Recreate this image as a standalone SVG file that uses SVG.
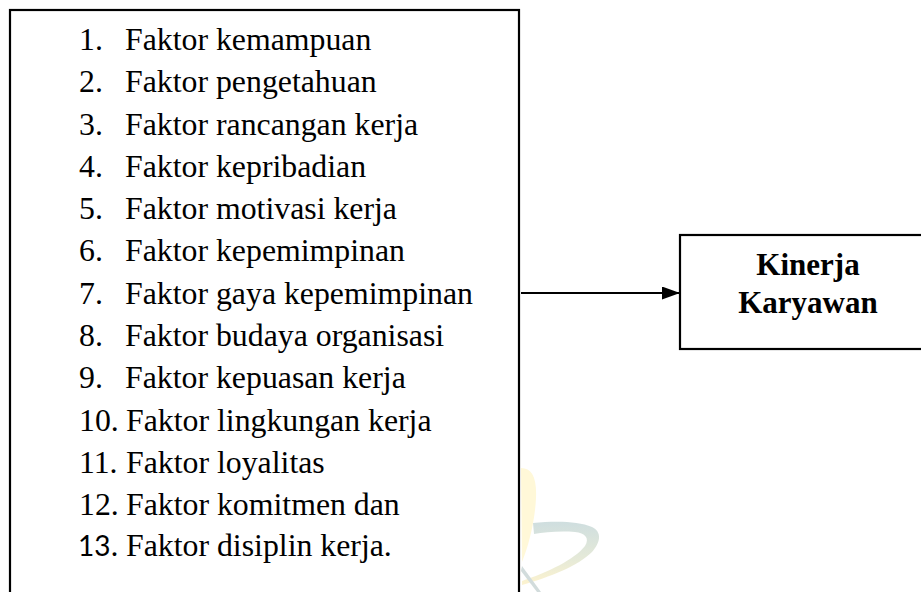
<svg xmlns="http://www.w3.org/2000/svg" width="921" height="592" viewBox="0 0 921 592">
<style>
.box{fill:#fff;stroke:#000;stroke-width:2.2}
.t{font-family:"Liberation Serif","Times New Roman",serif;font-size:31.8px;fill:#000}
.b{font-family:"Liberation Serif","Times New Roman",serif;font-size:31px;font-weight:bold;fill:#000;text-anchor:middle}
.sans{font-family:Lato,"Liberation Sans",sans-serif;font-size:28px}
</style>
<defs>
<linearGradient id="wm" x1="0" y1="0" x2="0" y2="1">
<stop offset="0" stop-color="#cfdedf"/>
<stop offset="0.6" stop-color="#e6ead8"/>
<stop offset="1" stop-color="#fdf3cf"/>
</linearGradient>
<marker id="ah" markerWidth="18" markerHeight="13" refX="18" refY="6.5" orient="auto" markerUnits="userSpaceOnUse">
<polygon points="0,0 18,6.5 0,13" fill="#000"/>
</marker>
</defs>
<rect width="921" height="592" fill="#fff"/>
<g id="watermark">
<path d="M521,468 C532,468 537,478 536,498 C535,520 529,545 522,562 Z" fill="#fff8d8"/>
<path d="M533,523 C555,521 578,521 592,527 C602,532 601,542 592,552 C578,566 550,577 522,585 L522,581 C548,572 574,560 585,546 C590,538 585,533 575,532 C560,531 545,532 534,534 Z" fill="url(#wm)"/>
<path d="M522,566 L541,592 L537,592 L521,571 Z" fill="#d2dcdc"/>
</g>
<g id="factors">
<rect class="box" x="10" y="10" width="509" height="600"/>
<text class="t" x="79" y="50">1.</text><text class="t" x="125" y="50">Faktor kemampuan</text>
<text class="t" x="79" y="92.25">2.</text><text class="t" x="125" y="92.25">Faktor pengetahuan</text>
<text class="t" x="79" y="134.5">3.</text><text class="t" x="125" y="134.5">Faktor rancangan kerja</text>
<text class="t" x="79" y="176.75">4.</text><text class="t" x="125" y="176.75">Faktor kepribadian</text>
<text class="t" x="79" y="219">5.</text><text class="t" x="125" y="219">Faktor motivasi kerja</text>
<text class="t" x="79" y="261.25">6.</text><text class="t" x="125" y="261.25">Faktor kepemimpinan</text>
<text class="t" x="79" y="303.5">7.</text><text class="t" x="125" y="303.5">Faktor gaya kepemimpinan</text>
<text class="t" x="79" y="345.75">8.</text><text class="t" x="125" y="345.75">Faktor budaya organisasi</text>
<text class="t" x="79" y="388">9.</text><text class="t" x="125" y="388">Faktor kepuasan kerja</text>
<text class="t" x="79" y="431">10.</text><text class="t" x="126" y="431">Faktor lingkungan kerja</text>
<text class="t" x="79" y="473">11.</text><text class="t" x="126" y="473">Faktor loyalitas</text>
<text class="t" x="79" y="514.5">12.</text><text class="t" x="126" y="514.5">Faktor komitmen dan</text>
<text class="t" x="78" y="556"><tspan class="sans">13</tspan>.</text><text class="t" x="126" y="556">Faktor disiplin kerja.</text>
</g>
<g id="kinerja">
<rect class="box" x="680" y="235" width="260" height="114"/>
<text class="b" x="808" y="275">Kinerja</text>
<text class="b" x="808" y="313">Karyawan</text>
</g>
<g id="connectors">
<line x1="521" y1="293" x2="680" y2="293" stroke="#000" stroke-width="2" marker-end="url(#ah)"/>
</g>
</svg>
